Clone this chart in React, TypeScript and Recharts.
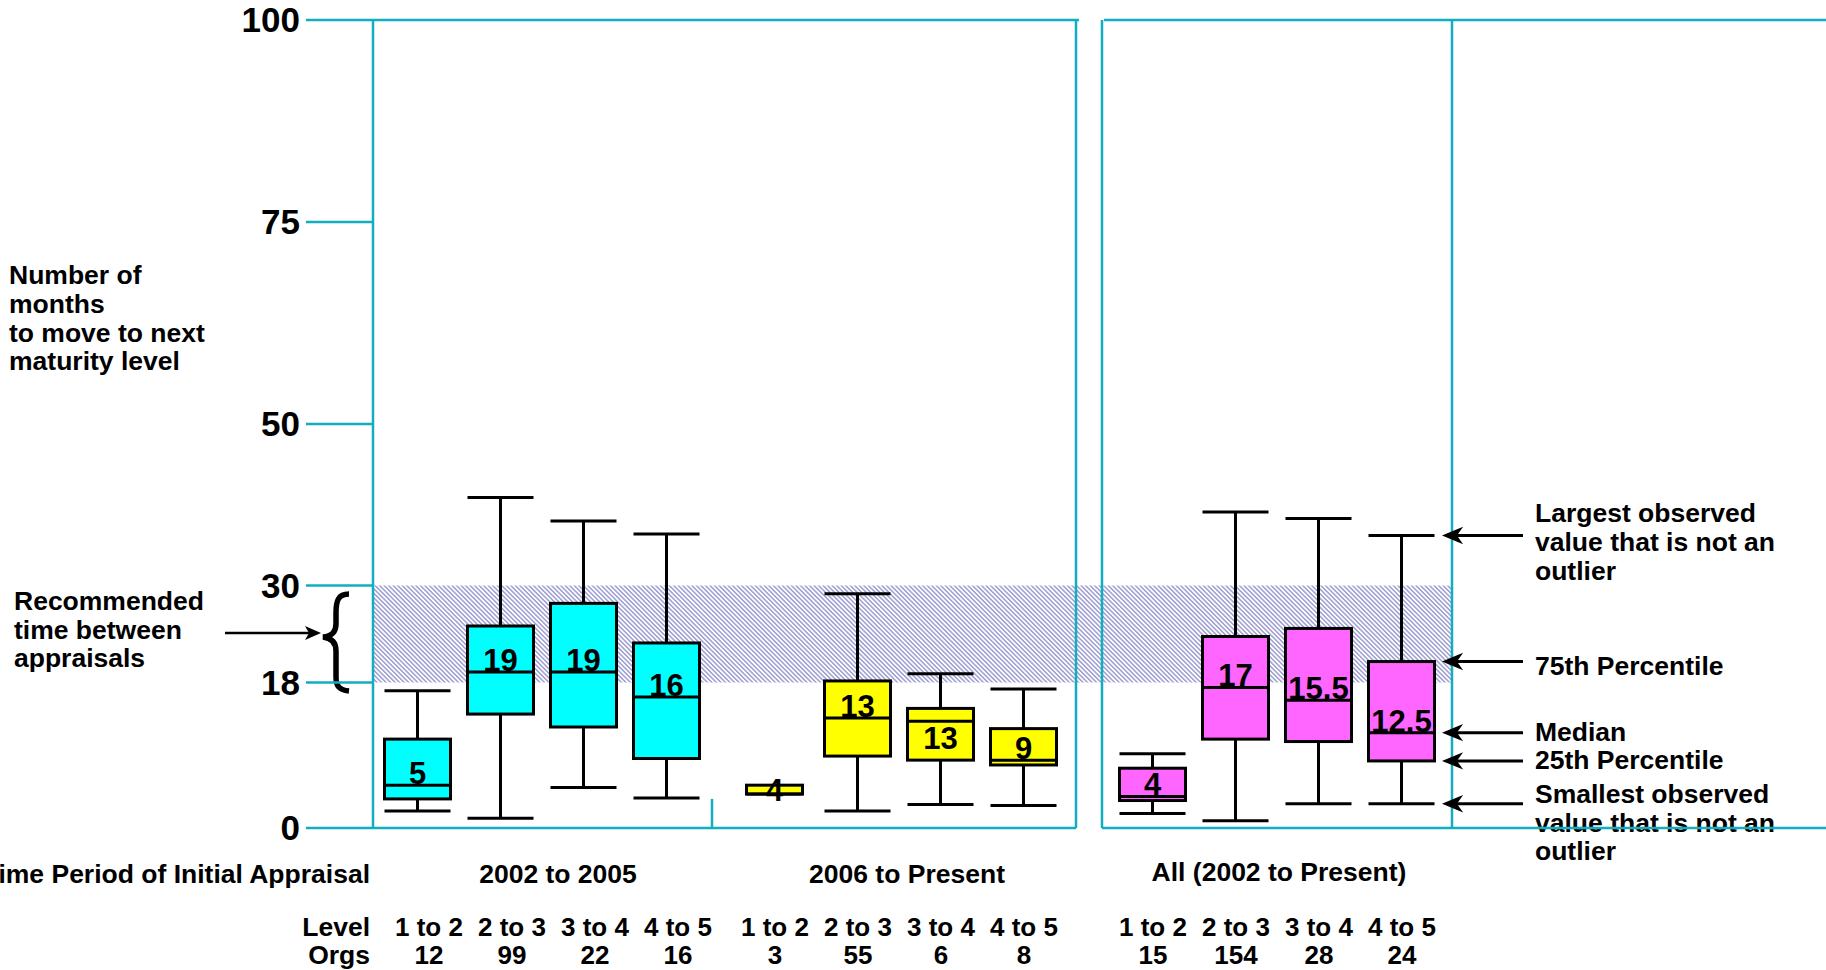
import React from "react";
import { Bar, ComposedChart, ReferenceArea, ReferenceLine, XAxis, YAxis } from "recharts";

// values (months)
const periods = ["2002 to 2005", "2006 to Present", "All (2002 to Present)"];
const levels = ["1 to 2", "2 to 3", "3 to 4", "4 to 5"];
const orgs = [12, 99, 22, 16, 3, 55, 6, 8, 15, 154, 28, 24];
const medianLabels = ["5", "19", "19", "16", "4", "13", "13", "9", "4", "17", "15.5", "12.5"];
const whiskerLow = [2.1, 1.2, 5.0, 3.7, 4.2, 2.1, 2.9, 2.8, 1.8, 0.9, 3.0, 3.0];
const q1 = [3.6, 14.1, 12.5, 8.6, 4.2, 8.9, 8.4, 7.8, 3.4, 11.0, 10.7, 8.3];
const median = [5.3, 19.3, 19.3, 16.2, 4.2, 13.6, 13.2, 8.4, 3.9, 17.4, 15.8, 11.8];
const q3 = [11.0, 25.0, 27.8, 22.9, 5.3, 18.2, 14.8, 12.3, 7.4, 23.7, 24.7, 20.6];
const whiskerHigh = [17.0, 40.9, 38.0, 36.4, 5.3, 29.0, 19.1, 17.2, 9.2, 39.1, 38.3, 36.2];
const yTicks = [0, 18, 30, 50, 75, 100];
const recommended = [18, 30];

// layout (x axis runs in pixels from the y axis line)
const FONT = '"Liberation Sans", Arial, Helvetica, sans-serif';
const TEAL = "#12adbf";
const FILLS = ["#00ffff", "#ffff00", "#ff66ff"];
const PLOT_LEFT = 373;
const X_MAX = 1826 - PLOT_LEFT;
const GROUP_START = [45, 402, 780];
const STEP = 83;
const PANEL1_RIGHT = 703;
const PANEL2_LEFT = 729;
const DIVIDER = 1079;
const GROUP_LABEL_X = [558, 907, 1279];
const LABEL_DX = [11, 0, 0];
const TEXT_SIZE = 26.5;

const positions = orgs.map((_, i) => GROUP_START[Math.floor(i / 4)] + (i % 4) * STEP);

const data = positions.map((pos, i) => ({
  pos,
  range: [whiskerLow[i], whiskerHigh[i]],
  low: whiskerLow[i],
  q1: q1[i],
  median: median[i],
  q3: q3[i],
  high: whiskerHigh[i],
  label: medianLabels[i],
  fill: FILLS[Math.floor(i / 4)],
}));

const frame: [number, number, number, number][] = [
  [0, 100, 706, 100],
  [731, 100, X_MAX, 100],
  [0, 0, PANEL1_RIGHT, 0],
  [PANEL2_LEFT, 0, X_MAX, 0],
  [PANEL1_RIGHT, 0, PANEL1_RIGHT, 100],
  [PANEL2_LEFT, 0, PANEL2_LEFT, 100],
  [DIVIDER, 0, DIVIDER, 100],
  [339, 0, 339, 3.6],
];

// the legend arrows point at the last box
const keyBox = data[data.length - 1];
const arrowValues = [keyBox.high, keyBox.q3, keyBox.median, keyBox.q1, keyBox.low];

function BoxShape(props: any) {
  const { x, y, width, height, payload } = props;
  const { low, q1: b1, median: med, q3: b3, high, fill, label } = payload;
  const top = Math.min(y, y + height);
  const h = Math.abs(height);
  const span = high - low;
  const py = (v: number) => (span === 0 ? top : top + ((high - v) / span) * h);
  const noWhiskers = low === b1 && high === b3;
  const w = noWhiskers ? 56 : width;
  const cx = x + width / 2;
  const bx = cx - w / 2;
  const yHi = py(high), y3 = py(b3), yM = py(med), y1 = py(b1), yLo = py(low);

  let ty = yM - 1;
  let baseline: any = "auto";
  if (yM - y3 < 26) {
    if (y1 - yM >= 26) ty = yM + 28;
    else {
      ty = (y3 + y1) / 2 + 1;
      baseline = "central";
    }
  }
  return (
    <g>
      {!noWhiskers && (
        <g stroke="#000" strokeWidth={3}>
          <line x1={cx} y1={yHi} x2={cx} y2={y3} />
          <line x1={cx} y1={y1} x2={cx} y2={yLo} />
          <line x1={bx} y1={yHi} x2={bx + w} y2={yHi} />
          <line x1={bx} y1={yLo} x2={bx + w} y2={yLo} />
        </g>
      )}
      <rect x={bx} y={y3} width={w} height={Math.max(y1 - y3, 1)} fill={fill} stroke="#000" strokeWidth={3} />
      <line x1={bx} y1={yM} x2={bx + w} y2={yM} stroke="#000" strokeWidth={3} />
      <text
        x={cx}
        y={ty}
        textAnchor="middle"
        dominantBaseline={baseline}
        fontFamily={FONT}
        fontWeight={700}
        fontSize={31}
        fill="#000"
      >
        {label}
      </text>
    </g>
  );
}

function LevelTick(props: any) {
  const { x, y, index } = props;
  const g = Math.floor(index / 4);
  const tx = x + LABEL_DX[g];
  return (
    <g fontFamily={FONT} fontWeight={700} fontSize={26} fill="#000">
      <text x={tx} y={y + 108} textAnchor="middle">
        {levels[index % 4]}
      </text>
      <text x={tx} y={y + 136} textAnchor="middle">
        {orgs[index]}
      </text>
    </g>
  );
}

function ArrowShape(props: any) {
  const { x1, y1, x2 } = props;
  const left = Math.min(x1, x2);
  const right = Math.max(x1, x2);
  return (
    <g>
      <line x1={left + 8} y1={y1} x2={right} y2={y1} stroke="#000" strokeWidth={3} />
      <path d={`M${left},${y1} L${left + 17},${y1 - 7} L${left + 12},${y1} L${left + 17},${y1 + 7} Z`} fill="#000" stroke="#000" strokeWidth={1.5} />
    </g>
  );
}

function Annotations() {
  const t = { fontFamily: FONT, fontWeight: 700, fontSize: TEXT_SIZE, fill: "#000" } as const;
  return (
    <svg width={1826} height={970} style={{ position: "absolute", left: 0, top: 0 }}>
      <g {...t}>
        <text x={9} y={284}>Number of</text>
        <text x={9} y={313}>months</text>
        <text x={9} y={342}>to move to next</text>
        <text x={9} y={370}>maturity level</text>

        <text x={14} y={610}>Recommended</text>
        <text x={14} y={639}>time between</text>
        <text x={14} y={667}>appraisals</text>

        <text x={370} y={883} textAnchor="end">Time Period of Initial Appraisal</text>
        {periods.map((p, i) => (
          <text key={p} x={GROUP_LABEL_X[i]} y={i === 2 ? 881 : 883} textAnchor="middle">
            {p}
          </text>
        ))}
        <text x={370} y={936} textAnchor="end">Level</text>
        <text x={370} y={964} textAnchor="end">Orgs</text>

        <text x={1535} y={522}>Largest observed</text>
        <text x={1535} y={551}>value that is not an</text>
        <text x={1535} y={580}>outlier</text>
        <text x={1535} y={675}>75th Percentile</text>
        <text x={1535} y={741}>Median</text>
        <text x={1535} y={769}>25th Percentile</text>
        <text x={1535} y={803}>Smallest observed</text>
        <text x={1535} y={832}>value that is not an</text>
        <text x={1535} y={860}>outlier</text>
      </g>
      <line x1={225} y1={633} x2={312} y2={633} stroke="#000" strokeWidth={2.5} />
      <path d="M321,633 L305,626 L309,633 L305,640 Z" fill="#000" />
      <path
        d="M349,594 C338,594 336,601 336,613 L336,624 C336,632 332,636 323,637 C332,638 336,643 336,651 L336,677 C336,686 339,690 349,691"
        fill="none"
        stroke="#000"
        strokeWidth={5.5}
      />
    </svg>
  );
}

export default function App() {
  return (
    <div style={{ position: "relative", width: 1826, height: 970, overflow: "hidden", background: "#fff" }}>
      <style>{"html,body{margin:0;padding:0;overflow:hidden;background:#fff}"}</style>
      <Annotations />
      <div style={{ position: "absolute", left: 0, top: 0 }}>
        <ComposedChart width={1826} height={970} data={data} margin={{ top: 20, right: 0, bottom: 0, left: PLOT_LEFT - 80 }}>
          <defs>
            <pattern id="hatch" width="3.2" height="3.2" patternUnits="userSpaceOnUse" patternTransform="rotate(-45)">
              <line x1="1.6" y1="0" x2="1.6" y2="3.2" stroke="#7878c0" strokeWidth="1.1" />
            </pattern>
          </defs>
          <XAxis
            type="number"
            dataKey="pos"
            domain={[0, X_MAX]}
            ticks={positions}
            interval={0}
            tick={(p: any) => <LevelTick {...p} />}
            tickLine={false}
            axisLine={false}
            tickSize={0}
            tickMargin={0}
            height={142}
          />
          <YAxis
            type="number"
            domain={[0, 100]}
            ticks={yTicks}
            interval={0}
            width={80}
            tickSize={67}
            tickMargin={6}
            axisLine={{ stroke: TEAL, strokeWidth: 2.5 }}
            tickLine={{ stroke: TEAL, strokeWidth: 2.5 }}
            tick={{ fontSize: 35, fontWeight: 700, fill: "#000", fontFamily: FONT }}
          />
          <ReferenceArea
            x1={0}
            x2={DIVIDER}
            y1={recommended[0]}
            y2={recommended[1]}
            fill="url(#hatch)"
            fillOpacity={1}
            stroke="none"
            ifOverflow="visible"
          />
          {frame.map(([ax, ay, bx, by], i) => (
            <ReferenceLine
              key={`f${i}`}
              segment={[
                { x: ax, y: ay },
                { x: bx, y: by },
              ]}
              stroke={TEAL}
              strokeWidth={2.5}
              ifOverflow="visible"
            />
          ))}
          <Bar dataKey="range" barSize={66} shape={BoxShape} isAnimationActive={false} />
          {arrowValues.map((v, i) => (
            <ReferenceLine
              key={`a${i}`}
              segment={[
                { x: 1071, y: v },
                { x: 1150, y: v },
              ]}
              shape={ArrowShape}
              ifOverflow="visible"
            />
          ))}
        </ComposedChart>
      </div>
    </div>
  );
}
